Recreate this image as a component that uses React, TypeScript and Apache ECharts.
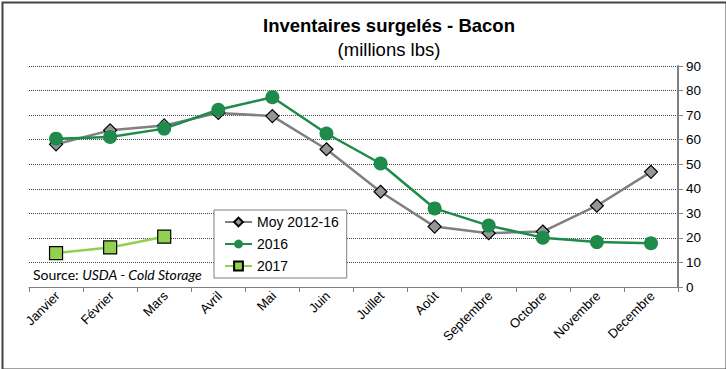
import React, { useEffect, useRef } from "react";
import * as echarts from "echarts";

const months = ["Janvier", "Février", "Mars", "Avril", "Mai", "Juin", "Juillet", "Août", "Septembre", "Octobre", "Novembre", "Decembre"];
const moy = [58.1, 63.8, 65.8, 70.9, 69.6, 56.1, 38.8, 24.6, 21.9, 22.6, 33.1, 46.9];
const y2016 = [60.4, 61.1, 64.5, 72.2, 77.3, 62.5, 50.3, 32.0, 25.0, 20.1, 18.3, 17.8];
const y2017 = [13.8, 16.1, 20.5];
const yTicks = [0, 90, 10];

const FONT = "'Liberation Sans', Arial, sans-serif";

export default function App() {
  const ref = useRef<HTMLDivElement>(null);
  useEffect(() => {
    if (!ref.current) return;
    const chart = echarts.init(ref.current, null, { renderer: "svg" });
    chart.setOption({
      animation: false,
      backgroundColor: "#fff",
      title: {
        text: "Inventaires surgelés - Bacon",
        subtext: "(millions lbs)",
        left: 384,
        textAlign: "center",
        top: 11,
        itemGap: 5,
        textStyle: { fontFamily: FONT, fontSize: 18.5, fontWeight: "bold", color: "#000" },
        subtextStyle: { fontFamily: FONT, fontSize: 18.5, color: "#000" },
      },
      grid: { left: 29, right: 48, top: 66, bottom: 82, containLabel: false },
      legend: {
        orient: "vertical",
        left: 214,
        top: 210,
        padding: [5, 8, 5, 10],
        itemGap: 8,
        itemWidth: 27,
        itemHeight: 11,
        borderColor: "#7f7f7f",
        borderWidth: 1,
        backgroundColor: "#fff",
        textStyle: { fontFamily: FONT, fontSize: 14, color: "#000" },
        data: ["Moy 2012-16", "2016", "2017"],
      },
      xAxis: {
        type: "category",
        data: months,
        boundaryGap: true,
        axisLine: { show: true, lineStyle: { color: "#808080", width: 1 } },
        axisTick: { show: true, interval: 0, length: 5, lineStyle: { color: "#808080" } },
        axisLabel: {
          interval: 0,
          rotate: 45,
          fontFamily: FONT,
          fontSize: 13,
          color: "#000",
          margin: 8,
          padding: [10, -2, 0, 0],
        },
      },
      yAxis: {
        type: "value",
        position: "right",
        min: yTicks[0],
        max: yTicks[1],
        interval: yTicks[2],
        axisLine: { show: true, lineStyle: { color: "#808080", width: 2 } },
        axisTick: { show: true, length: 5, inside: false, lineStyle: { color: "#808080" } },
        axisLabel: { fontFamily: FONT, fontSize: 13.5, color: "#000", margin: 8 },
        splitLine: { show: true, lineStyle: { color: "#444", type: [1, 1], width: 1 } },
      },
      graphic: [
        {
          type: "text",
          left: 33,
          top: 267,
          style: {
            text: "{n|Source: }{i|USDA - Cold Storage}",
            rich: {
              n: { fontFamily: "Lato, 'Open Sans', sans-serif", fontSize: 14, fill: "#000" },
              i: { fontFamily: "Lato, 'Open Sans', sans-serif", fontSize: 14, fontStyle: "italic", fill: "#000" },
            },
          },
        },
        {
          type: "rect",
          left: 0,
          top: 0,
          shape: { width: 724, height: 367 },
          style: { fill: "none", stroke: "#444", lineWidth: 2 },
          silent: true,
        },
      ],
      series: [
        {
          name: "Moy 2012-16",
          type: "line",
          data: moy,
          symbol: "diamond",
          symbolSize: 13,
          lineStyle: { color: "#808080", width: 2.5 },
          itemStyle: { color: "#969696", borderColor: "#000", borderWidth: 1.2 },
          z: 2,
        },
        {
          name: "2016",
          type: "line",
          data: y2016,
          symbol: "circle",
          symbolSize: 14,
          lineStyle: { color: "#1E8B4A", width: 2.5 },
          itemStyle: { color: "#1E8B4A", borderColor: "#1E8B4A", borderWidth: 0 },
          z: 3,
        },
        {
          name: "2017",
          type: "line",
          data: y2017,
          symbol: "rect",
          symbolSize: 13,
          lineStyle: { color: "#92D050", width: 2.5 },
          itemStyle: { color: "#92D050", borderColor: "#000", borderWidth: 1.2 },
          z: 4,
        },
      ],
    });
    return () => chart.dispose();
  }, []);
  return <div ref={ref} style={{ position: "absolute", left: 0, top: 0, width: 726, height: 369 }} />;
}
